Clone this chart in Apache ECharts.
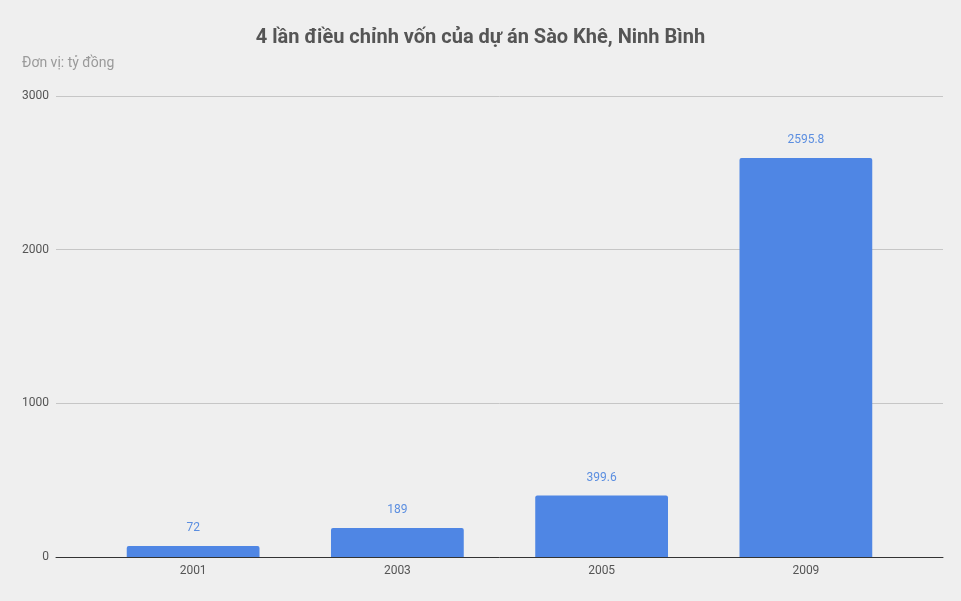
<!DOCTYPE html>
<html lang="vi">
<head>
    <meta charset="UTF-8">
    <title>Sào Khê</title>
    <style>
        html, body { margin: 0; padding: 0; background: #efefef; }
        #chart { width: 961px; height: 601px; }
    </style>
</head>
<body>
<div id="chart"></div>
<script src="https://cdn.jsdelivr.net/npm/echarts@6/dist/echarts.min.js"></script>
<script type="text/javascript">
    const years = ['2001', '2003', '2005', '2009'];
    const capital = [72, 189, 399.6, 2595.8];
    const yTicks = [0, 1000, 2000, 3000];

    const chart = echarts.init(document.getElementById('chart'));
    const font = 'Roboto, "Noto Sans", sans-serif';

    chart.setOption({
        backgroundColor: '#efefef',
        textStyle: { fontFamily: font },
        title: [
            {
                text: '4 lần điều chỉnh vốn của dự án Sào Khê, Ninh Bình',
                left: 'center',
                top: 23,
                textStyle: { fontSize: 20, fontWeight: 'bold', color: '#555', fontFamily: font }
            },
            {
                text: 'Đơn vị: tỷ đồng',
                left: 17,
                top: 51,
                textStyle: { fontSize: 14, fontWeight: 'normal', color: '#9a9a9a', fontFamily: font }
            }
        ],
        grid: [
            // full-width grid for gridlines and baseline
            { left: 56, right: 18, top: 96, bottom: 44 },
            // inner grid for the bars
            { left: 91, right: 53, top: 96, bottom: 44 }
        ],
        xAxis: [
            {
                gridIndex: 0,
                type: 'value',
                min: 0,
                max: 1,
                axisLine: { show: true, onZero: false, lineStyle: { color: '#333', width: 1 } },
                axisTick: { show: false },
                axisLabel: { show: false },
                splitLine: { show: false }
            },
            {
                gridIndex: 1,
                type: 'category',
                data: years,
                axisLine: { show: false },
                axisTick: { show: false },
                axisLabel: { color: '#555', fontSize: 12, margin: 8 }
            }
        ],
        yAxis: [
            {
                gridIndex: 0,
                type: 'value',
                min: yTicks[0],
                max: yTicks[yTicks.length - 1],
                interval: 1000,
                axisLine: { show: false },
                axisTick: { show: false },
                axisLabel: { color: '#555', fontSize: 12, margin: 7, formatter: v => String(v) },
                splitLine: { lineStyle: { color: '#c6c6c6' } }
            },
            {
                gridIndex: 1,
                type: 'value',
                min: yTicks[0],
                max: yTicks[yTicks.length - 1],
                interval: 1000,
                show: false,
                splitLine: { show: false }
            }
        ],
        series: [
            {
                type: 'bar',
                xAxisIndex: 1,
                yAxisIndex: 1,
                data: capital,
                barWidth: '65%',
                itemStyle: { color: '#4f86e4', borderRadius: [2, 2, 0, 0] },
                label: {
                    show: true,
                    position: 'top',
                    distance: 12,
                    color: '#5b8ee0',
                    fontSize: 12
                },
                z: 3
            }
        ]
    });
</script>
</body>
</html>
